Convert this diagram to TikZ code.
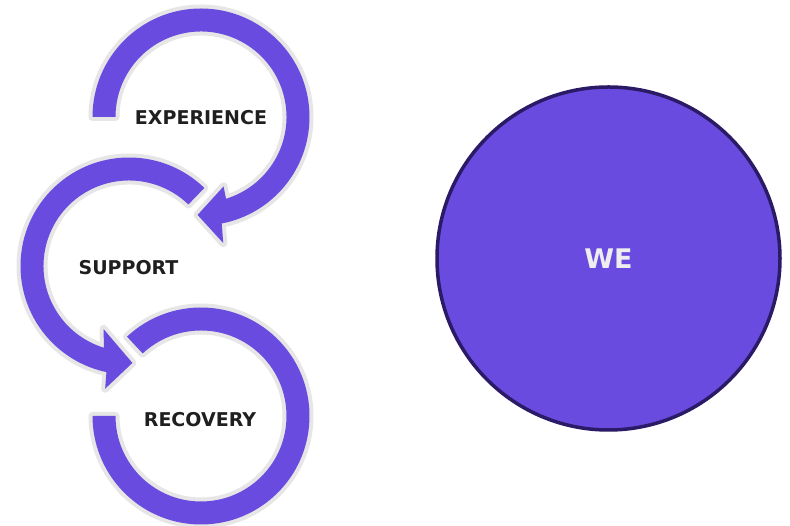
\documentclass[tikz,border=0pt]{standalone}
\usepackage{fontspec}
\setmainfont{DejaVu Sans}
\definecolor{ringpurple}{HTML}{6A4BE0}
\definecolor{ringedge}{HTML}{E6E6E6}
\definecolor{wedge}{HTML}{2B1A66}
\definecolor{labeldark}{HTML}{1F1F1F}
\definecolor{welabel}{HTML}{EEEEEE}
\begin{document}
\begin{tikzpicture}[x=1pt,y=1pt,
  ringpart/.style={fill=ringpurple, line join=round,
    preaction={draw=ringedge, line width=8pt, line join=round}},
  steplabel/.style={text=labeldark, font=\bfseries\fontsize{19}{21}\selectfont, inner sep=0pt},
  welabelstyle/.style={text=welabel, font=\bfseries\fontsize{27}{29}\selectfont, inner sep=0pt}]
\useasboundingbox (0,0) rectangle (790,526);
\fill[white] (0,0) rectangle (790,526);

\coordinate (c1) at (201,409);
\coordinate (c2) at (129,260);
\coordinate (c3) at (201,110);

% lower ring, open on the left
\path[ringpart, shift={(c3)}]
  (133:108.5) arc[start angle=133, end angle=-180, radius=108.5]
  -- (180:85.5) arc[start angle=-180, end angle=133, radius=85.5] -- cycle;

% middle ring, turning anticlockwise into an arrow
\path[ringpart, shift={(c2)}]
  (46:108.5) arc[start angle=46, end angle=258, radius=108.5]
  -- (259:125) -- (272:97) -- (248:68) -- (253:85.5)
  arc[start angle=253, end angle=46, radius=85.5] -- cycle;

% upper ring, turning clockwise into an arrow
\path[ringpart, shift={(c1)}]
  (180:108.5) arc[start angle=180, end angle=-79, radius=108.5]
  -- (-80:128) -- (-92:98) -- (-72:73) -- (-73:85.5)
  arc[start angle=-73, end angle=180, radius=85.5] -- cycle;

\node[steplabel] (experience) at (201,408) {EXPERIENCE};
\node[steplabel] (support) at (128.5,258) {SUPPORT};
\node[steplabel] (recovery) at (200,106) {RECOVERY};

\node[circle, minimum size=343pt, inner sep=0pt, fill=ringpurple, draw=wedge, line width=3.5pt] (we) at (608.5,267.5) {};
\node[welabelstyle] (welabel) at (608.5,267) {WE};
\end{tikzpicture}
\end{document}
